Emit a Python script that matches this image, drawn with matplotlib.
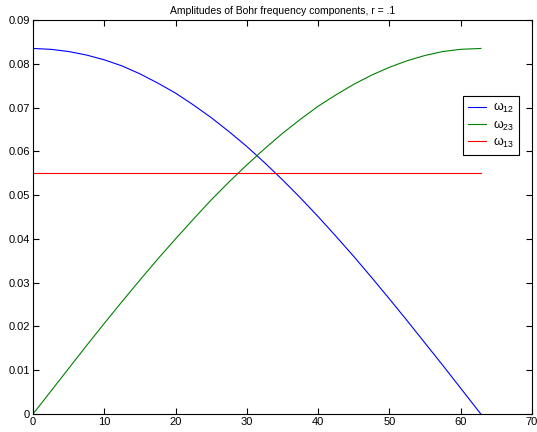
import matplotlib
matplotlib.use("Agg")
import matplotlib.pyplot as plt

# values
x = [0, 2.5, 5, 7.5, 10, 12.5, 15, 17.5, 20, 22.5, 25, 27.5, 30, 32.5,
     35, 37.5, 40, 42.5, 45, 47.5, 50, 52.5, 55, 57.5, 60, 62.83]
amp_12 = [0.0835, 0.0833, 0.0828, 0.0820, 0.0809, 0.0795, 0.0777, 0.0756,
          0.0733, 0.0706, 0.0677, 0.0645, 0.0611, 0.0574, 0.0535, 0.0494,
          0.0451, 0.0406, 0.0360, 0.0312, 0.0263, 0.0213, 0.0162, 0.0111,
          0.0059, 0.0]
amp_23 = [0.0, 0.0052, 0.0104, 0.0156, 0.0207, 0.0257, 0.0306, 0.0354,
          0.0400, 0.0445, 0.0489, 0.0530, 0.0569, 0.0606, 0.0641, 0.0673,
          0.0703, 0.0729, 0.0753, 0.0774, 0.0792, 0.0807, 0.0819, 0.0828,
          0.0833, 0.0835]
amp_13 = [0.055] * len(x)
labels = [r"$\omega_{12}$", r"$\omega_{23}$", r"$\omega_{13}$"]
xticks = [0, 10, 20, 30, 40, 50, 60, 70]
yticks = [0, 0.01, 0.02, 0.03, 0.04, 0.05, 0.06, 0.07, 0.08, 0.09]

plt.rcParams["font.family"] = ["Liberation Sans", "DejaVu Sans"]
plt.rcParams["mathtext.fontset"] = "custom"
plt.rcParams["mathtext.rm"] = "Liberation Sans"
plt.rcParams["mathtext.it"] = "Liberation Sans"

fig = plt.figure(figsize=(5.37, 4.32), dpi=100)
ax = fig.add_axes([0.0615, 0.0417, 0.929, 0.912])

ax.plot(x, amp_12, color="#0000ff", lw=0.8, label=labels[0])
ax.plot(x, amp_23, color="#008000", lw=0.8, label=labels[1])
ax.plot(x, amp_13, color="#ff0000", lw=0.8, label=labels[2])

ax.set_xlim(0, 70)
ax.set_ylim(0, 0.09)
ax.set_xticks(xticks)
ax.set_yticks(yticks)
ax.set_xticklabels([str(t) for t in xticks])
ax.set_yticklabels(["0"] + [f"{t:.2f}" for t in yticks[1:]])
ax.tick_params(direction="in", top=True, right=True, labelsize=8, length=4, width=0.8, pad=2)
for s in ax.spines.values():
    s.set_linewidth(0.8)

ax.set_title("Amplitudes of Bohr frequency components, r = .1", fontsize=7.5, pad=4)

leg = ax.legend(loc="upper right", bbox_to_anchor=(0.986, 0.822), fontsize=9,
                fancybox=False, framealpha=1, edgecolor="k", handlelength=1.5,
                borderpad=0.4, labelspacing=0.25, handletextpad=0.5)
leg.get_frame().set_linewidth(0.8)

fig.savefig("out.png", dpi=100)
